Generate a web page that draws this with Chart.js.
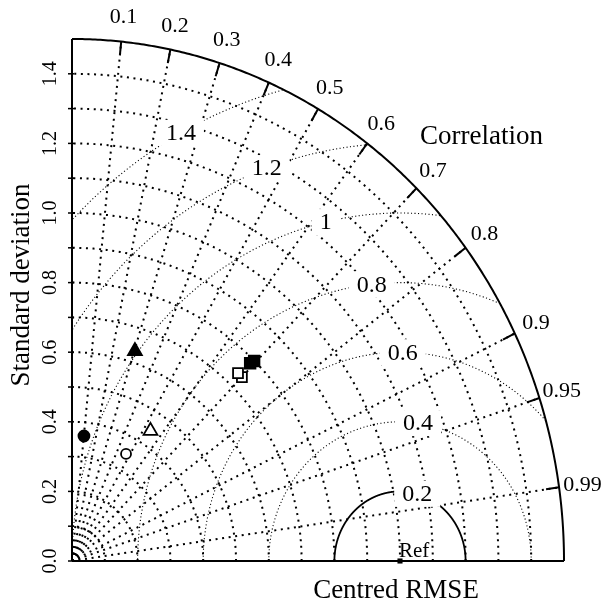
<!DOCTYPE html>
<html><head><meta charset="utf-8">
<script src="https://cdn.jsdelivr.net/npm/chart.js@4.4.0/dist/chart.umd.min.js"></script>
<style>html,body{margin:0;padding:0;background:#fff}#wrap{width:604px;height:605px;position:relative}</style>
</head><body><div id="wrap"><canvas id="c"></canvas></div>
<script>
// ---- data ----
const modelNames  = ['A', 'B', 'C', 'D', 'E1', 'E2', 'F1', 'F2'];
const stdDev      = [0.361, 0.349, 0.633, 0.444, 0.740, 0.740, 0.786, 0.799];
const correlation = [0.101, 0.472, 0.303, 0.539, 0.684, 0.700, 0.691, 0.695];
const refStd = 1.0;
const maxStd = 1.5;
const stdTickLabels = [0.0, 0.2, 0.4, 0.6, 0.8, 1.0, 1.2, 1.4];
const stdGridLevels = [0.1,0.2,0.3,0.4,0.5,0.6,0.7,0.8,0.9,1.0,1.1,1.2,1.3,1.4];
const corrTicks = [0.1,0.2,0.3,0.4,0.5,0.6,0.7,0.8,0.9,0.95,0.99];
const rmseLevels = [0.2, 0.4, 0.6, 0.8, 1.0, 1.2, 1.4];
const rmseLabelAngles = [74.8, 82.1, 89.2, 96.2, 103.1, 109.8, 118.5]; // degrees around Ref

const toXY = (s, c) => ({x: s * c, y: s * Math.sin(Math.acos(c))});

const markerDefs = [
  {pointStyle:'circle',   radius:5.5, fill:'#000'},
  {pointStyle:'circle',   radius:5,   fill:'#fff'},
  {pointStyle:'triangle', radius:8,   fill:'#000'},
  {pointStyle:'triangle', radius:8,   fill:'#fff'},
  {pointStyle:'rect',     radius:7,   fill:'#fff'},
  {pointStyle:'rect',     radius:7,   fill:'#fff'},
  {pointStyle:'rect',     radius:7.5, fill:'#000'},
  {pointStyle:'rect',     radius:7.5, fill:'#000'}
];

const datasets = modelNames.map((n, i) => ({
  label: n,
  data: [toXY(stdDev[i], correlation[i])],
  pointStyle: markerDefs[i].pointStyle,
  pointRadius: markerDefs[i].radius,
  pointBackgroundColor: markerDefs[i].fill,
  pointBorderColor: '#000',
  pointBorderWidth: 1.8,
  showLine: false,
  clip: false
}));
datasets.push({
  label: 'Ref', data: [{x: refStd, y: 0}], pointStyle: 'rect', pointRadius: 3.6,
  pointBackgroundColor: '#000', pointBorderColor: '#000', pointBorderWidth: 0, clip: false
});

const SERIF = '"Liberation Serif", "Times New Roman", serif';

const taylorGrid = {
  id: 'taylorGrid',
  beforeDatasetsDraw(chart) {
    const {ctx, scales: {x, y}} = chart;
    const P = (dx, dy) => [x.getPixelForValue(dx), y.getPixelForValue(dy)];
    const polar = (r, th) => P(r * Math.cos(th), r * Math.sin(th));
    ctx.save();
    ctx.strokeStyle = '#000';
    ctx.lineCap = 'butt';
    // std dev arcs
    ctx.lineWidth = 2; ctx.setLineDash([2, 4.6]);
    stdGridLevels.forEach(s => {
      ctx.beginPath();
      for (let i = 0; i <= 240; i++) {
        const [px, py] = polar(s, i / 240 * Math.PI / 2);
        i ? ctx.lineTo(px, py) : ctx.moveTo(px, py);
      }
      ctx.stroke();
    });
    // radial correlation lines
    corrTicks.forEach(c => {
      const th = Math.acos(c);
      const [x0, y0] = P(0, 0), [x1, y1] = polar(maxStd, th);
      ctx.beginPath(); ctx.moveTo(x0, y0); ctx.lineTo(x1, y1); ctx.stroke();
    });
    // RMSE circles
    rmseLevels.forEach((r, k) => {
      if (k === 0) { ctx.setLineDash([]); ctx.lineWidth = 1.8; }
      else { ctx.setLineDash([1.1, 2.4]); ctx.lineWidth = 1.1; }
      ctx.beginPath(); let pen = false;
      for (let i = 0; i <= 900; i++) {
        const a = i / 900 * Math.PI;
        const dx = refStd + r * Math.cos(a), dy = r * Math.sin(a);
        if (dx < 0 || dx * dx + dy * dy > maxStd * maxStd) { pen = false; continue; }
        const [px, py] = P(dx, dy);
        if (pen) ctx.lineTo(px, py); else { ctx.moveTo(px, py); pen = true; }
      }
      ctx.stroke();
    });
    ctx.setLineDash([]);
    // RMSE labels with white boxes
    ctx.font = '24px ' + SERIF;
    ctx.textAlign = 'center'; ctx.textBaseline = 'middle';
    rmseLevels.forEach((r, k) => {
      const a = rmseLabelAngles[k] * Math.PI / 180;
      const [px, py] = P(refStd + r * Math.cos(a), r * Math.sin(a));
      const txt = String(r);
      const w = ctx.measureText(txt).width;
      ctx.fillStyle = '#fff';
      ctx.fillRect(px - w / 2 - 8, py - 13, w + 16, 26);
      ctx.fillStyle = '#000';
      ctx.fillText(txt, px, py + 1);
    });
    // outer arc
    ctx.lineWidth = 2;
    ctx.beginPath();
    for (let i = 0; i <= 300; i++) {
      const [px, py] = polar(maxStd, i / 300 * Math.PI / 2);
      i ? ctx.lineTo(px, py) : ctx.moveTo(px, py);
    }
    ctx.stroke();
    // axes
    const [ox, oy] = P(0, 0);
    const [tx, ty] = P(0, maxStd);
    const [rx, ry] = P(maxStd, 0);
    ctx.beginPath(); ctx.moveTo(ox, oy); ctx.lineTo(tx, ty); ctx.stroke();
    ctx.beginPath(); ctx.moveTo(ox, oy); ctx.lineTo(rx, ry); ctx.stroke();
    // y ticks
    ctx.lineWidth = 1.5;
    stdGridLevels.concat([0]).forEach(s => {
      const [px, py] = P(0, s);
      ctx.beginPath(); ctx.moveTo(px - 4, py); ctx.lineTo(px + 2, py); ctx.stroke();
    });
    // correlation ticks
    ctx.lineWidth = 2;
    corrTicks.forEach(c => {
      const th = Math.acos(c);
      const [a1, b1] = polar(maxStd, th), [a2, b2] = polar(maxStd - 0.04, th);
      ctx.beginPath(); ctx.moveTo(a1, b1); ctx.lineTo(a2, b2); ctx.stroke();
    });
    // correlation labels
    ctx.fillStyle = '#000';
    ctx.font = '22px ' + SERIF;
    ctx.textAlign = 'center'; ctx.textBaseline = 'middle';
    corrTicks.forEach(c => {
      const [px, py] = polar(1.572, Math.acos(c));
      ctx.fillText(String(c), px, py + 1);
    });
    // y tick labels (rotated)
    ctx.font = '20px ' + SERIF;
    stdTickLabels.forEach(s => {
      const [px, py] = P(0, s);
      ctx.save();
      ctx.translate(px - 16, py);
      ctx.rotate(-Math.PI / 2);
      ctx.textAlign = 'center'; ctx.textBaseline = 'alphabetic';
      ctx.fillText(s.toFixed(1), 0, 0);
      ctx.restore();
    });
    // titles
    ctx.font = '27px ' + SERIF;
    ctx.save();
    ctx.translate(29, 285);
    ctx.rotate(-Math.PI / 2);
    ctx.textAlign = 'center'; ctx.textBaseline = 'alphabetic';
    ctx.fillText('Standard deviation', 0, 0);
    ctx.restore();
    ctx.textAlign = 'center'; ctx.textBaseline = 'alphabetic';
    ctx.fillText('Centred RMSE', 396, 598);
    ctx.textAlign = 'left';
    ctx.fillText('Correlation', 420, 144);
    // Ref label
    ctx.font = '21px ' + SERIF;
    const [qx, qy] = P(refStd, 0);
    ctx.fillText('Ref', qx - 1, qy - 4);
    ctx.restore();
  }
};

new Chart(document.getElementById('c'), {
  type: 'scatter',
  data: {datasets},
  options: {
    responsive: true, maintainAspectRatio: false, animation: false,
    layout: {padding: {left: 72, right: 40, top: 39, bottom: 44}},
    scales: {
      x: {type: 'linear', min: 0, max: maxStd, display: false},
      y: {type: 'linear', min: 0, max: maxStd, display: false}
    },
    plugins: {legend: {display: false}, tooltip: {enabled: false}},
    events: []
  },
  plugins: [taylorGrid]
});
</script>
</body></html>
